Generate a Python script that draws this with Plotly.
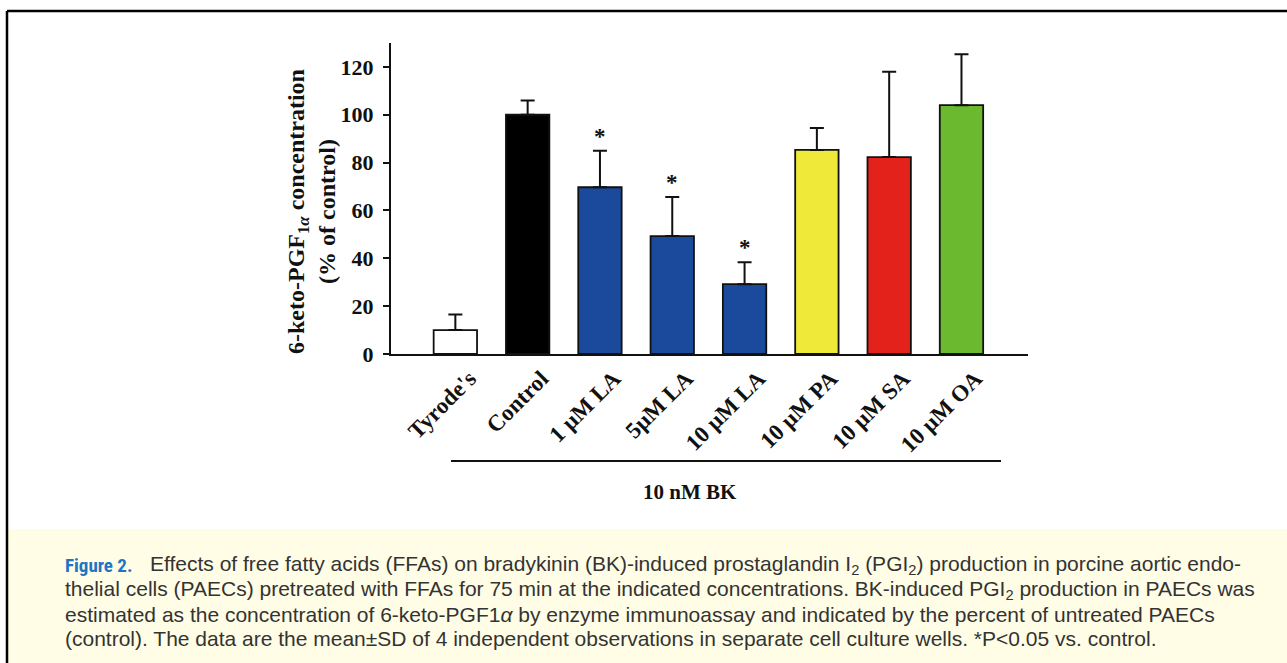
import plotly.graph_objects as go

categories = ["Tyrode's", "Control", "1 µM LA", "5µM LA", "10 µM LA", "10 µM PA", "10 µM SA", "10 µM OA"]
means = [10, 100, 69.7, 49.3, 29.2, 85.3, 82.3, 104.0]
sds = [6.5, 6.0, 15.3, 16.3, 9.1, 9.2, 35.7, 21.3]
colors = ["#FFFFFF", "#000000", "#1B4A9C", "#1B4A9C", "#1B4A9C", "#EFE93A", "#E3221B", "#6AB92F"]
significant = [False, False, True, True, True, False, False, False]
y_ticks = [0, 20, 40, 60, 80, 100, 120]

caption_lines = [
    "Effects of free fatty acids (FFAs) on bradykinin (BK)-induced prostaglandin I<sub>2</sub> (PGI<sub>2</sub>) production in porcine aortic endo-",
    "thelial cells (PAECs) pretreated with FFAs for 75 min at the indicated concentrations. BK-induced PGI<sub>2</sub> production in PAECs was",
    "estimated as the concentration of 6-keto-PGF1<i>α</i> by enzyme immunoassay and indicated by the percent of untreated PAECs",
    "(control). The data are the mean±SD of 4 independent observations in separate cell culture wells. *P<0.05 vs. control.",
]

W, H = 1287, 663
L, R, T, B = 391, 1028, 43, 354

def px(x):
    return (x - L) / (R - L)

def py(y):
    return (B - y) / (B - T)

serif = "Liberation Serif, Times New Roman, serif"
sans = "Liberation Sans, Arial, sans-serif"

fig = go.Figure()
fig.add_trace(go.Bar(
    x=list(range(len(categories))), y=means,
    marker=dict(color=colors, line=dict(color="#111111", width=1.8)),
    width=0.6,
    error_y=dict(type="data", symmetric=False, array=sds, arrayminus=[0] * len(sds),
                 color="#111111", thickness=2, width=7),
    showlegend=False, hoverinfo="skip",
))

annotations = []
for i, s in enumerate(significant):
    if s:
        annotations.append(dict(x=i, y=means[i] + sds[i], xref="x", yref="y", text="<b>*</b>",
                                showarrow=False, xanchor="center", yanchor="bottom", yshift=0,
                                font=dict(family=serif, size=23, color="#111111")))

shapes = [
    dict(type="rect", xref="paper", yref="paper", x0=px(8), x1=px(W + 5), y0=py(529), y1=py(H + 5),
         fillcolor="#FFFDE6", line=dict(width=0), layer="below"),
    dict(type="line", xref="paper", yref="paper", x0=px(7), x1=px(W + 5), y0=py(11), y1=py(11),
         line=dict(color="#000000", width=2.5)),
    dict(type="line", xref="paper", yref="paper", x0=px(7), x1=px(7), y0=py(11), y1=py(H + 5),
         line=dict(color="#000000", width=2.5)),
    dict(type="line", xref="paper", yref="paper", x0=px(451), x1=px(1001), y0=py(461), y1=py(461),
         line=dict(color="#111111", width=2)),
]

annotations += [
    dict(xref="paper", yref="paper", x=px(311), y=py(212), xanchor="center", yanchor="middle",
         textangle=-90, showarrow=False,
         text="<b>6-keto-PGF<sub>1<i>α</i></sub> concentration<br>(% of control)</b>",
         font=dict(family=serif, size=24, color="#111111")),
    dict(xref="paper", yref="paper", x=px(690), y=py(492), xanchor="center", yanchor="middle",
         showarrow=False, text="<b>10 nM BK</b>", font=dict(family=serif, size=21, color="#111111")),
]

line_y = [565, 590, 614, 638]
for k, (txt, yy) in enumerate(zip(caption_lines, line_y)):
    if k == 0:
        annotations.append(dict(xref="paper", yref="paper", x=px(63), y=py(yy), xanchor="left",
                                yanchor="middle", showarrow=False, text="<b>Figure 2.</b>",
                                font=dict(family="Liberation Sans Narrow, Arial Narrow, Roboto Condensed, sans-serif",
                                          size=19, color="#1F74C4")))
        annotations.append(dict(xref="paper", yref="paper", x=px(148), y=py(yy), xanchor="left",
                                yanchor="middle", showarrow=False, text=txt,
                                font=dict(family=sans, size=21, color="#333333")))
    else:
        annotations.append(dict(xref="paper", yref="paper", x=px(63), y=py(yy), xanchor="left",
                                yanchor="middle", showarrow=False, text=txt,
                                font=dict(family=sans, size=21, color="#333333")))

fig.update_layout(
    width=W, height=H,
    margin=dict(l=L, r=W - R, t=T, b=H - B, pad=0),
    paper_bgcolor="#FFFFFF", plot_bgcolor="#FFFFFF",
    shapes=shapes, annotations=annotations,
    bargap=0.4,
)
fig.update_xaxes(
    range=[-0.89, 7.92], tickmode="array", tickvals=list(range(len(categories))),
    ticktext=["<b>%s</b>" % c for c in categories], tickangle=-45,
    tickfont=dict(family=serif, size=23, color="#111111"),
    ticklabelshift=14, ticklabelstandoff=0,
    showline=True, linecolor="#111111", linewidth=2, ticks="", showgrid=False, zeroline=False,
)
fig.update_yaxes(
    range=[0, 130], tickmode="array", tickvals=y_ticks, ticktext=["<b>%d</b>" % v for v in y_ticks],
    tickfont=dict(family=serif, size=22, color="#111111"),
    ticklabelstandoff=5,
    showline=True, linecolor="#111111", linewidth=2, ticks="outside", ticklen=6, tickwidth=2,
    tickcolor="#111111", showgrid=False, zeroline=False,
)

fig.write_html("out.html", config={"displayModeBar": False},
               post_script="document.body.style.margin='0';document.body.style.padding='0';")
